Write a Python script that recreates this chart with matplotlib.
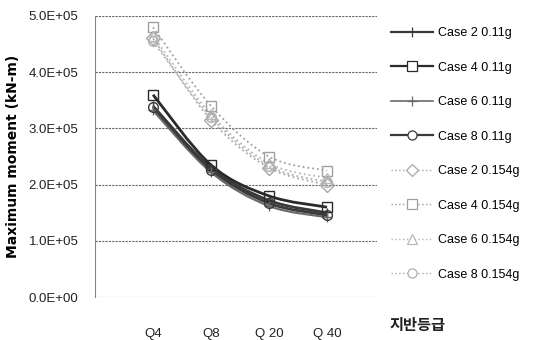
import numpy as np
import matplotlib
matplotlib.use("Agg")
import matplotlib.pyplot as plt
from matplotlib.path import Path
from matplotlib.patches import PathPatch
from matplotlib.lines import Line2D

plt.rcParams['font.family'] = ['Liberation Sans', 'Noto Sans CJK KR', 'DejaVu Sans']

# data
categories = ["Q4", "Q8", "Q 20", "Q 40"]
labels = ["Case 2 0.11g", "Case 4 0.11g", "Case 6 0.11g", "Case 8 0.11g",
          "Case 2 0.154g", "Case 4 0.154g", "Case 6 0.154g", "Case 8 0.154g"]
case2_011 = [3.40e5, 2.30e5, 1.72e5, 1.50e5]
case4_011 = [3.60e5, 2.35e5, 1.80e5, 1.60e5]
case6_011 = [3.32e5, 2.22e5, 1.62e5, 1.42e5]
case8_011 = [3.38e5, 2.27e5, 1.67e5, 1.46e5]
case2_0154 = [4.60e5, 3.15e5, 2.30e5, 2.00e5]
case4_0154 = [4.80e5, 3.40e5, 2.50e5, 2.25e5]
case6_0154 = [4.65e5, 3.25e5, 2.38e5, 2.12e5]
case8_0154 = [4.55e5, 3.20e5, 2.33e5, 2.05e5]
series = [case2_011, case4_011, case6_011, case8_011,
          case2_0154, case4_0154, case6_0154, case8_0154]

markers = ['|', 's', '+', 'o', 'D', 's', '^', 'o']
colors = ['#3a3a3a', '#2a2a2a', '#6a6a6a', '#3a3a3a',
          '#a8a8a8', '#a0a0a0', '#b8b8b8', '#b0b0b0']
styles = ['-', '-', '-', '-', ':', ':', ':', ':']
widths = [2.0, 2.0, 1.5, 2.0, 1.3, 1.3, 1.3, 1.3]


def smooth_path(x, y):
    # Excel-like smoothed line: Catmull-Rom as cubic Bezier segments
    pts = np.column_stack([x, y]).astype(float)
    verts = [pts[0]]
    codes = [Path.MOVETO]
    n = len(pts)
    for i in range(n - 1):
        p0 = pts[i - 1] if i > 0 else pts[i]
        p1 = pts[i]
        p2 = pts[i + 1]
        p3 = pts[i + 2] if i + 2 < n else pts[i + 1]
        c1 = p1 + (p2 - p0) / 6.0
        c2 = p2 - (p3 - p1) / 6.0
        verts += [c1, c2, p2]
        codes += [Path.CURVE4] * 3
    return Path(verts, codes)


fig = plt.figure(figsize=(5.4, 3.4), dpi=100)
ax = fig.add_axes([0.176, 0.126, 0.522, 0.827])

xs = np.arange(1, len(categories) + 1)
handles = []
for vals, lab, m, c, ls, lw in zip(series, labels, markers, colors, styles, widths):
    patch = PathPatch(smooth_path(xs, vals), fill=False, edgecolor=c,
                      linestyle=ls, linewidth=lw, zorder=3)
    ax.add_patch(patch)
    ax.plot(xs, vals, linestyle='none', marker=m, markersize=7,
            markerfacecolor='none', markeredgecolor=c, markeredgewidth=1.0, zorder=4)
    handles.append(Line2D([], [], color=c, linestyle=ls, linewidth=lw * 0.8, marker=m,
                          markersize=6.5, markerfacecolor='white', markeredgecolor=c,
                          markeredgewidth=0.9))

ax.set_xlim(0, 4.86)
ax.set_ylim(0, 5.0e5)
ax.set_yticks(np.arange(0, 5.01e5, 1e5))
ax.set_yticklabels(["%.1fE+%02d" % (v / 1e5 if v else 0, 5 if v else 0) for v in np.arange(0, 5.01e5, 1e5)])
ax.set_xticks(xs)
ax.set_xticklabels(categories)
ax.tick_params(axis='both', length=0, labelsize=9.5, colors='#222222')
ax.tick_params(axis='x', pad=22)
ax.tick_params(axis='y', pad=12)

ax.grid(axis='y', color='#666666', linestyle=(0, (2, 1)), linewidth=0.8)
ax.set_axisbelow(True)
for s in ['top', 'right', 'bottom']:
    ax.spines[s].set_visible(False)
ax.spines['left'].set_color('#888888')
ax.spines['left'].set_linestyle((0, (2, 1)))
ax.spines['left'].set_linewidth(0.8)

ax.set_ylabel("Maximum moment (kN-m)", fontsize=10, fontweight='bold',
              family=['DejaVu Sans'], labelpad=6)

ax.legend(handles=handles, labels=labels, loc='upper left',
          bbox_to_anchor=(1.01, 1.0), frameon=False, fontsize=9,
          labelspacing=1.8, handlelength=3.4, handletextpad=0.4)

fig.text(0.722, 0.03, "지반등급", fontsize=11, family=['Noto Sans CJK KR'],
         fontweight='bold', color='#222222')

fig.savefig("out.png", dpi=100)
